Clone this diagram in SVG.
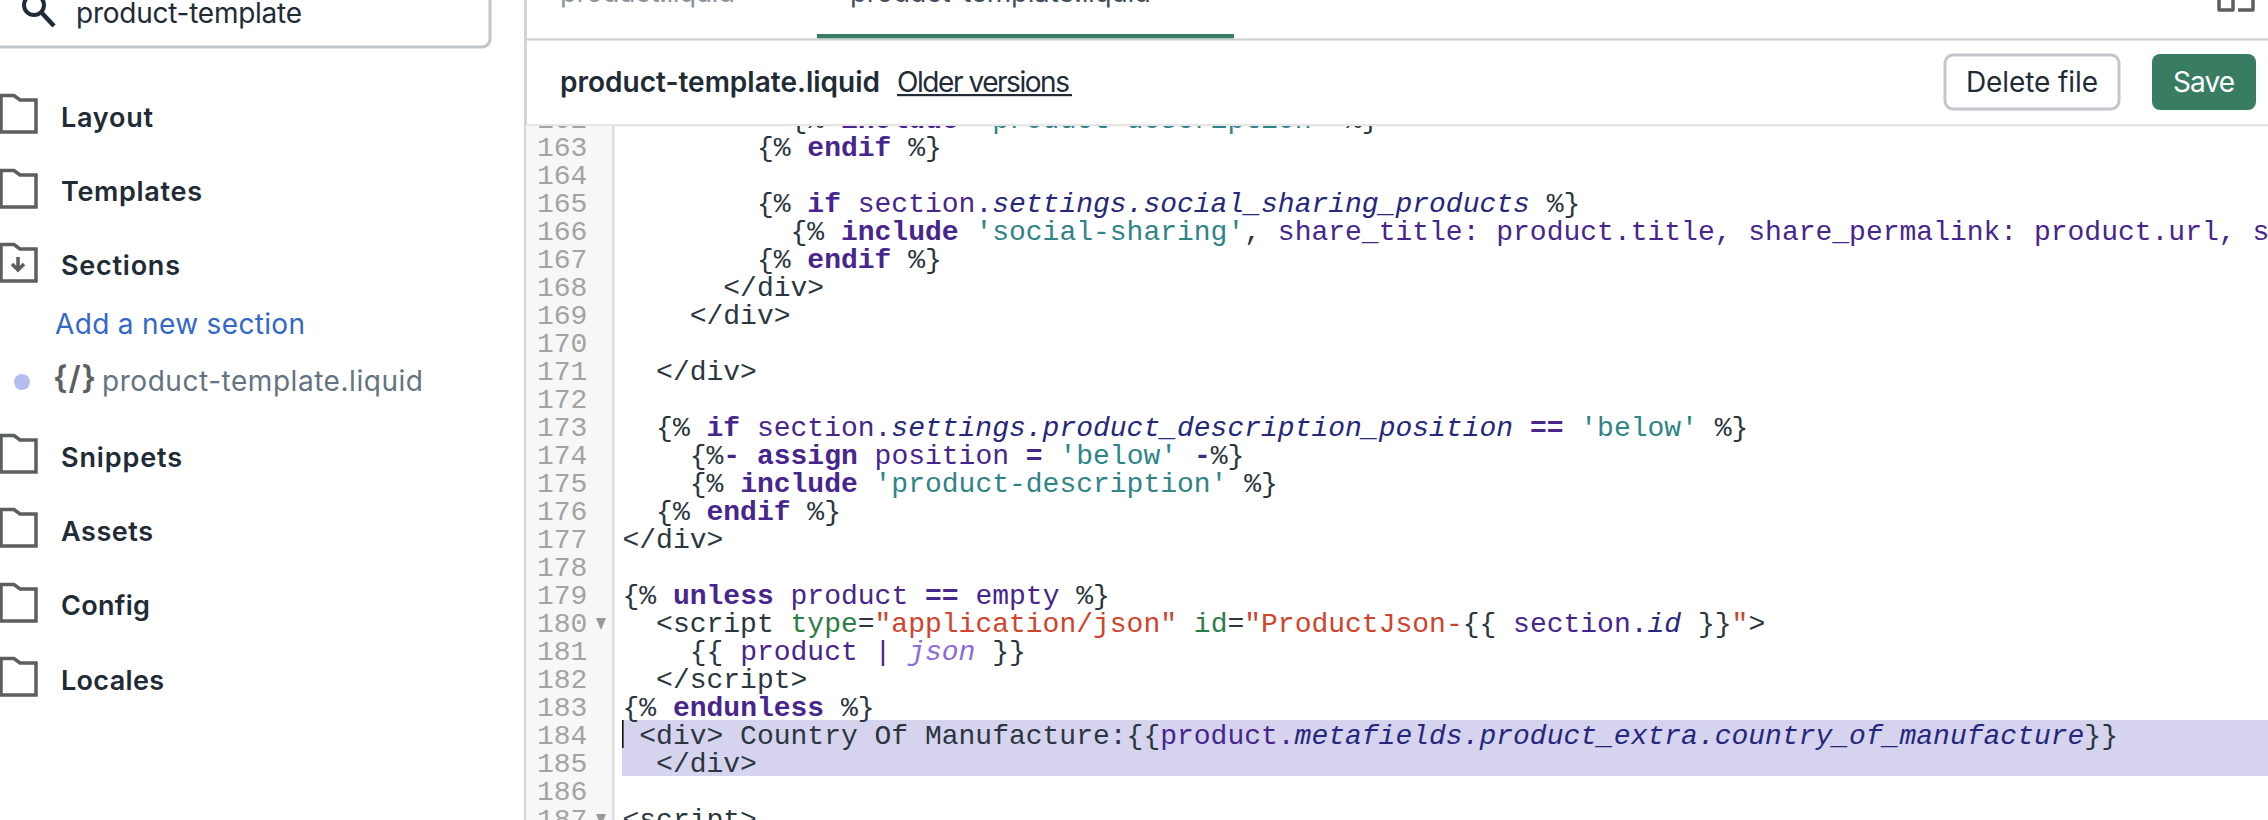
<svg xmlns="http://www.w3.org/2000/svg" width="2268" height="820" viewBox="0 0 2268 820">
<style>
text{white-space:pre}
.s{font-family:Inter,"Liberation Sans",sans-serif;font-size:28px;fill:#212b36}
.b{font-weight:600}
.c{font-family:"Liberation Mono",monospace;font-size:28px;fill:#2b3640}
.n{font-family:"Liberation Mono",monospace;font-size:28px;fill:#a3a3a3}
.k{font-weight:700;fill:#47258d}
.v{fill:#47258d}
.i{font-style:italic;fill:#26277c}
.q{fill:#2f8488}
.a{fill:#2d7d46}
.r{fill:#d2432c}
.f{font-style:italic;fill:#8d6ade}
.ic{fill:none;stroke:#5c5f62;stroke-width:3.5}
</style>
<defs>
<path id="folder" class="ic" d="M1 1.5H14L20 6H36V38H1Z"/>
<clipPath id="code"><rect x="526" y="126" width="1742" height="694"/></clipPath>
</defs>
<rect width="2268" height="820" fill="#fff"/>
<g id="search">
<rect x="-10" y="-20" width="500" height="67" rx="8" fill="#fff" stroke="#c0c5ca" stroke-width="3"/>
<circle cx="34" cy="5" r="10" fill="none" stroke="#212b36" stroke-width="4"/>
<path d="M41 12L54 26" stroke="#212b36" stroke-width="4.5" fill="none"/>
<text class="s" x="76" y="23" textLength="226">product-template</text>
</g>
<g id="sidebar">
<g id="layout"><use href="#folder" y="94"/><text class="s b" x="61" y="126.500" textLength="92" style="font-size:27px">Layout</text></g>
<g id="templates"><use href="#folder" y="169"/><text class="s b" x="61" y="200.500" textLength="141" style="font-size:27px">Templates</text></g>
<g id="sections"><use href="#folder" y="243"/><path class="ic" d="M18 257V270M12 264L18 270L24 264"/><text class="s b" x="61" y="275" textLength="119" style="font-size:27px">Sections</text></g>
<text id="add-section" class="s" x="55" y="334" textLength="250" style="fill:#3367c9">Add a new section</text>
<g id="file"><circle cx="22" cy="382" r="8" fill="#b4bdef"/>
<text class="s b" x="53" y="389" textLength="43" style="fill:#5c5f62;font-size:32px">{/}</text>
<text class="s" x="102" y="391" textLength="321" style="fill:#637381">product-template.liquid</text></g>
<g id="snippets"><use href="#folder" y="434"/><text class="s b" x="61" y="466.500" textLength="121" style="font-size:27px">Snippets</text></g>
<g id="assets"><use href="#folder" y="508"/><text class="s b" x="61" y="541" textLength="92" style="font-size:27px">Assets</text></g>
<g id="config"><use href="#folder" y="583"/><text class="s b" x="61" y="615" textLength="89" style="font-size:27px">Config</text></g>
<g id="locales"><use href="#folder" y="657"/><text class="s b" x="61" y="690" textLength="103" style="font-size:27px">Locales</text></g>
</g>
<g id="tabs">
<rect x="524" y="0" width="3" height="820" fill="#d4d4d6"/>
<text class="s" x="560" y="2" textLength="175" style="fill:#8a939c">product.liquid</text>
<text class="s" x="850" y="2" textLength="301" style="fill:#454f5b">product-template.liquid</text>
<rect x="817" y="34" width="417" height="4.5" fill="#387d62"/>
<rect x="526" y="38.5" width="1742" height="2" fill="#c9ced3"/>
<path class="ic" d="M2219 0V10H2233V0M2238 10H2253V0" stroke-linejoin="round"/>
</g>
<g id="header">
<text class="s b" x="560" y="92" textLength="320">product-template.liquid</text>
<text class="s" x="897" y="92" textLength="173">Older versions</text>
<rect x="897" y="94" width="175" height="2.2" fill="#212b36"/>
<g id="delete-file"><rect x="1945" y="55" width="174" height="54" rx="8" fill="#fff" stroke="#c4c6cc" stroke-width="3"/>
<text class="s" x="1966" y="92" textLength="132">Delete file</text></g>
<g id="save"><rect x="2152" y="54" width="104" height="56" rx="8" fill="#387d62"/>
<text class="s" x="2173" y="92" textLength="62" style="fill:#fff">Save</text></g>
<rect x="526" y="124" width="1742" height="2.4" fill="#e6e6e6"/>
</g>
<g id="editor" clip-path="url(#code)">
<rect x="526" y="126" width="86" height="694" fill="#f7f7f7"/>
<rect x="612" y="126" width="2.5" height="694" fill="#ddd"/>
<rect x="622" y="720" width="1646" height="56" fill="#d5d3ee"/>
<rect x="622" y="720" width="1.6" height="28" fill="#111"/>
<g id="line-numbers" class="n">
<text class="n" x="537" y="128">162</text><text class="n" x="537" y="156">163</text><text class="n" x="537" y="184">164</text><text class="n" x="537" y="212">165</text><text class="n" x="537" y="240">166</text><text class="n" x="537" y="268">167</text><text class="n" x="537" y="296">168</text><text class="n" x="537" y="324">169</text><text class="n" x="537" y="352">170</text><text class="n" x="537" y="380">171</text><text class="n" x="537" y="408">172</text><text class="n" x="537" y="436">173</text><text class="n" x="537" y="464">174</text><text class="n" x="537" y="492">175</text><text class="n" x="537" y="520">176</text><text class="n" x="537" y="548">177</text><text class="n" x="537" y="576">178</text><text class="n" x="537" y="604">179</text><text class="n" x="537" y="632">180</text><text class="n" x="537" y="660">181</text><text class="n" x="537" y="688">182</text><text class="n" x="537" y="716">183</text><text class="n" x="537" y="744">184</text><text class="n" x="537" y="772">185</text><text class="n" x="537" y="800">186</text><text class="n" x="537" y="828">187</text>
<path d="M596 618H606L601 630Z" fill="#999"/>
<path d="M596 814H606L601 826Z" fill="#999"/>
</g>
<g id="code-lines">
<text class="c" x="622.5" y="128">          {% <tspan class="k">include</tspan> <tspan class="q">'product-description'</tspan> %}</text>
<text class="c" x="622.5" y="156">        {% <tspan class="k">endif</tspan> %}</text>
<text class="c" x="622.5" y="212">        {% <tspan class="k">if</tspan> <tspan class="v">section.</tspan><tspan class="i">settings.social_sharing_products</tspan> %}</text>
<text class="c" x="622.5" y="240">          {% <tspan class="k">include</tspan> <tspan class="q">'social-sharing'</tspan>, <tspan class="v">share_title: product.title, share_permalink: product.url, s</tspan></text>
<text class="c" x="622.5" y="268">        {% <tspan class="k">endif</tspan> %}</text>
<text class="c" x="622.5" y="296">      &lt;/div&gt;</text>
<text class="c" x="622.5" y="324">    &lt;/div&gt;</text>
<text class="c" x="622.5" y="380">  &lt;/div&gt;</text>
<text class="c" x="622.5" y="436">  {% <tspan class="k">if</tspan> <tspan class="v">section.</tspan><tspan class="i">settings.product_description_position</tspan> <tspan class="k">==</tspan> <tspan class="q">'below'</tspan> %}</text>
<text class="c" x="622.5" y="464">    {%<tspan class="k">-</tspan> <tspan class="k">assign</tspan> <tspan class="v">position</tspan> <tspan class="k">=</tspan> <tspan class="q">'below'</tspan> <tspan class="k">-</tspan>%}</text>
<text class="c" x="622.5" y="492">    {% <tspan class="k">include</tspan> <tspan class="q">'product-description'</tspan> %}</text>
<text class="c" x="622.5" y="520">  {% <tspan class="k">endif</tspan> %}</text>
<text class="c" x="622.5" y="548">&lt;/div&gt;</text>
<text class="c" x="622.5" y="604">{% <tspan class="k">unless</tspan> <tspan class="v">product</tspan> <tspan class="k">==</tspan> <tspan class="v">empty</tspan> %}</text>
<text class="c" x="622.5" y="632">  &lt;script <tspan class="a">type</tspan>=<tspan class="r">"application/json"</tspan> <tspan class="a">id</tspan>=<tspan class="r">"ProductJson-</tspan>{{ <tspan class="v">section.</tspan><tspan class="i">id</tspan> }}<tspan class="r">"</tspan>&gt;</text>
<text class="c" x="622.5" y="660">    {{ <tspan class="v">product</tspan> <tspan class="v">|</tspan> <tspan class="f">json</tspan> }}</text>
<text class="c" x="622.5" y="688">  &lt;/script&gt;</text>
<text class="c" x="622.5" y="716">{% <tspan class="k">endunless</tspan> %}</text>
<text class="c" x="622.5" y="744"> &lt;div&gt; Country Of Manufacture:{{<tspan class="v">product.</tspan><tspan class="i">metafields.product_extra.country_of_manufacture</tspan>}}</text>
<text class="c" x="622.5" y="772">  &lt;/div&gt;</text>
<text class="c" x="622.5" y="828">&lt;script&gt;</text>
</g>
</g>
</svg>
